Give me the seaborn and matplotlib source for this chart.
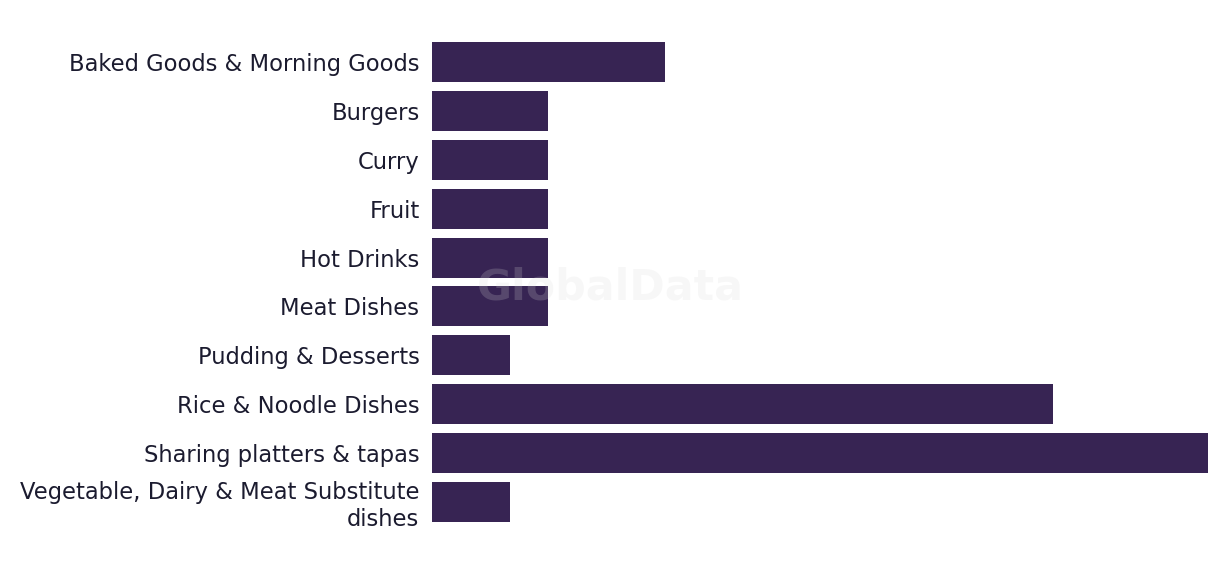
import matplotlib
matplotlib.use("Agg")
import matplotlib.pyplot as plt
import seaborn as sns
import pandas as pd

categories = [
    "Baked Goods & Morning Goods",
    "Burgers",
    "Curry",
    "Fruit",
    "Hot Drinks",
    "Meat Dishes",
    "Pudding & Desserts",
    "Rice & Noodle Dishes",
    "Sharing platters & tapas",
    "Vegetable, Dairy & Meat Substitute\ndishes",
]
values = [6, 3, 3, 3, 3, 3, 2, 16, 20, 2]

sns.set_theme(style="white")
plt.rcParams["font.family"] = ["DejaVu Sans"]

df = pd.DataFrame({"category": categories, "value": values})

fig = plt.figure(figsize=(12.2, 5.74), dpi=100)
ax = fig.add_axes([432 / 1220, 1 - 526.4 / 574, (1208 - 432) / 1220, (526.4 - 37.6) / 574])

sns.barplot(data=df, y="category", x="value", orient="h", color="#372453",
            saturation=1, width=0.818, linewidth=0, ax=ax)

ax.set_xlim(0, 20)
ax.set_xlabel("")
ax.set_ylabel("")
ax.set_xticks([])
sns.despine(ax=ax, left=True, bottom=True)
ax.tick_params(axis="y", length=0, pad=9, labelsize=16.3, labelcolor="#1b1b2f")
for lbl in ax.get_yticklabels():
    lbl.set_multialignment("right")
    lbl.set_linespacing(1.2)

ax.text((610 - 432) / (1208 - 432), 1 - (287 - 37.6) / (526.4 - 37.6), "GlobalData",
        transform=ax.transAxes, ha="center", va="center", fontsize=30.8, fontweight="bold",
        color="#d9d9d9", alpha=0.2, zorder=10)

fig.savefig("out.png", dpi=100)
